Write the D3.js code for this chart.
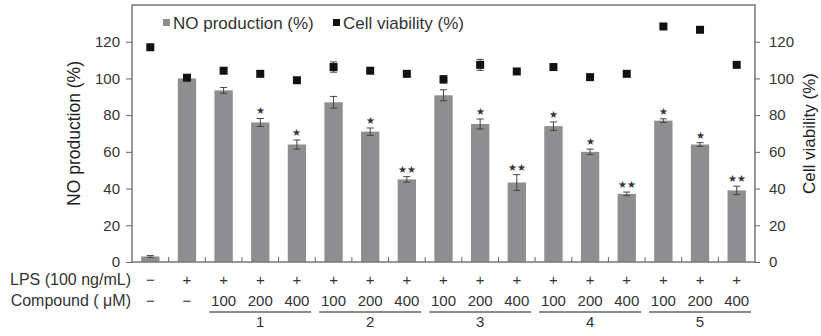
<!DOCTYPE html>
<html><head><meta charset="utf-8">
<script src="https://cdn.jsdelivr.net/npm/d3@7/dist/d3.min.js"></script>
<style>body{margin:0;background:#fff}svg{display:block}text{font-family:"Liberation Sans",Arial,sans-serif}</style>
</head><body><div id="chart"></div>
<script>
const categories = ["c1","c2","c3","c4","c5","c6","c7","c8","c9","c10","c11","c12","c13","c14","c15","c16","c17"];
const lpsLabels = ["−","+","+","+","+","+","+","+","+","+","+","+","+","+","+","+","+"];
const compoundLabels = ["−","−","100","200","400","100","200","400","100","200","400","100","200","400","100","200","400"];
const groupLabels = ["1","2","3","4","5"];
const groupStart = [2,5,8,11,14];
const noProduction = [3,100,93.5,76,64,87,71,45,90.8,75.2,43.3,74,60,37.1,77,64,39];
const noError = [0.5,0,1.6,2.2,2.5,3.2,2,1.5,3,2.7,4.3,2.3,1.5,1,1,1,2.3];
const significance = ["","","","★","★","","★","★★","","★","★★","★","★","★★","★","★","★★"];
const cellViability = [117,100.4,104.2,102.5,99,106.2,104.2,102.5,99.5,107.4,103.8,106.2,100.7,102.5,128.3,126.5,107.4];
const cellError = [0,1.5,0,1.5,1.5,2.8,0,0,2,3,0,0,0,0,0,0,0];
const yTicks = [0,20,40,60,80,100,120];

const W=821,H=336;
const m={left:132,right:66,top:5,bottom:74};
const svg=d3.select("#chart").append("svg").attr("width",W).attr("height",H);
const x=d3.scaleBand().domain(categories).range([m.left,W-m.right]).paddingInner(0.5).paddingOuter(0.25);
const xb=d3.scaleBand().domain(categories).range([m.left,W-m.right]);
const y=d3.scaleLinear().domain([0,140]).range([H-m.bottom,m.top]);
const txtCol="#333";

// bars
svg.append("g").selectAll("rect").data(categories).join("rect")
 .attr("x",d=>x(d)).attr("width",x.bandwidth())
 .attr("y",(d,i)=>y(noProduction[i])).attr("height",(d,i)=>y(0)-y(noProduction[i]))
 .attr("fill","#8e8e90");
// bar error bars
const eg=svg.append("g").attr("stroke","#444").attr("stroke-width",1);
categories.forEach((c,i)=>{
  if(!noError[i]) return;
  const cx=xb(c)+xb.bandwidth()/2, y1=y(noProduction[i]+noError[i]), y2=y(noProduction[i]-noError[i]);
  eg.append("line").attr("x1",cx).attr("x2",cx).attr("y1",y1).attr("y2",y2);
  eg.append("line").attr("x1",cx-3.5).attr("x2",cx+3.5).attr("y1",y1).attr("y2",y1);
  eg.append("line").attr("x1",cx-3.5).attr("x2",cx+3.5).attr("y1",y2).attr("y2",y2);
});
// significance
svg.append("g").selectAll("text").data(categories).join("text")
 .attr("x",d=>xb(d)+xb.bandwidth()/2)
 .attr("y",(d,i)=>y(noProduction[i]+noError[i])-4)
 .attr("text-anchor","middle").attr("font-size",10).attr("fill","#333")
 .attr("font-family","DejaVu Sans,sans-serif")
 .text((d,i)=>significance[i]);
// cell viability
const vg=svg.append("g");
categories.forEach((c,i)=>{
  const cx=xb(c)+xb.bandwidth()/2, cy=y(cellViability[i]);
  if(cellError[i]){
    const y1=y(cellViability[i]+cellError[i]), y2=y(cellViability[i]-cellError[i]);
    vg.append("line").attr("x1",cx).attr("x2",cx).attr("y1",y1).attr("y2",y2).attr("stroke","#444");
    vg.append("line").attr("x1",cx-3.5).attr("x2",cx+3.5).attr("y1",y1).attr("y2",y1).attr("stroke","#444");
    vg.append("line").attr("x1",cx-3.5).attr("x2",cx+3.5).attr("y1",y2).attr("y2",y2).attr("stroke","#444");
  }
  vg.append("rect").attr("x",cx-4).attr("y",cy-4).attr("width",8).attr("height",8).attr("fill","#111");
});

// frame
svg.append("rect").attr("x",m.left).attr("y",m.top).attr("width",W-m.right-m.left).attr("height",H-m.bottom-m.top)
 .attr("fill","none").attr("stroke","#777").attr("stroke-width",1.5);
// axes
const la=svg.append("g").attr("transform",`translate(${m.left},0)`)
 .call(d3.axisLeft(y).tickValues(yTicks).tickSize(6).tickPadding(6));
const ra=svg.append("g").attr("transform",`translate(${W-m.right},0)`)
 .call(d3.axisRight(y).tickValues(yTicks).tickSize(5).tickPadding(9));
[la,ra].forEach(a=>{
  a.select(".domain").remove();
  a.selectAll("line").attr("stroke","#666");
  a.selectAll("text").attr("font-size",15).attr("fill",txtCol).attr("font-family","Liberation Sans,Arial,sans-serif");
});
// bottom inner ticks
svg.append("g").selectAll("line").data(categories.slice(1)).join("line")
 .attr("x1",d=>xb(d)).attr("x2",d=>xb(d)).attr("y1",y(0)).attr("y2",y(0)-5).attr("stroke","#666");

// axis titles
svg.append("text").attr("transform",`translate(80,${(y(0)+y(140))/2}) rotate(-90)`)
 .attr("text-anchor","middle").attr("font-size",17.5).attr("fill","#222").text("NO production (%)");
svg.append("text").attr("transform",`translate(815,${(y(0)+y(140))/2}) rotate(-90)`)
 .attr("text-anchor","middle").attr("font-size",17).attr("fill","#222").text("Cell viability (%)");

// legend
svg.append("rect").attr("x",163).attr("y",19).attr("width",7).attr("height",7).attr("fill","#8e8e90");
svg.append("text").attr("x",173).attr("y",29).attr("font-size",17).attr("fill","#333").text("NO production (%)");
svg.append("rect").attr("x",333).attr("y",19).attr("width",7).attr("height",7).attr("fill","#111");
svg.append("text").attr("x",343).attr("y",29).attr("font-size",17).attr("fill","#333").text("Cell viability (%)");

// x labels
const rowLPS=285, rowC=306;
svg.append("text").attr("x",131).attr("y",rowLPS).attr("text-anchor","end").attr("font-size",16).attr("fill",txtCol).text("LPS (100 ng/mL)");
svg.append("text").attr("x",131).attr("y",rowC).attr("text-anchor","end").attr("font-size",16).attr("fill",txtCol).text("Compound ( μM)");
svg.append("g").selectAll("text").data(categories).join("text")
 .attr("x",d=>xb(d)+xb.bandwidth()/2).attr("y",rowLPS).attr("text-anchor","middle")
 .attr("font-size",15).attr("fill",txtCol).text((d,i)=>lpsLabels[i]);
svg.append("g").selectAll("text").data(categories).join("text")
 .attr("x",d=>xb(d)+xb.bandwidth()/2).attr("y",rowC).attr("text-anchor","middle")
 .attr("font-size",15).attr("fill",txtCol).text((d,i)=>compoundLabels[i]);
const gg=svg.append("g");
groupLabels.forEach((g,k)=>{
  const a=xb(categories[groupStart[k]])+4, b=xb(categories[groupStart[k]+2])+xb.bandwidth()-4;
  gg.append("line").attr("x1",a).attr("x2",b).attr("y1",312).attr("y2",312).attr("stroke","#666").attr("stroke-width",1.5);
  gg.append("text").attr("x",(a+b)/2).attr("y",327).attr("text-anchor","middle").attr("font-size",15).attr("fill",txtCol).text(g);
});
</script></body></html>
